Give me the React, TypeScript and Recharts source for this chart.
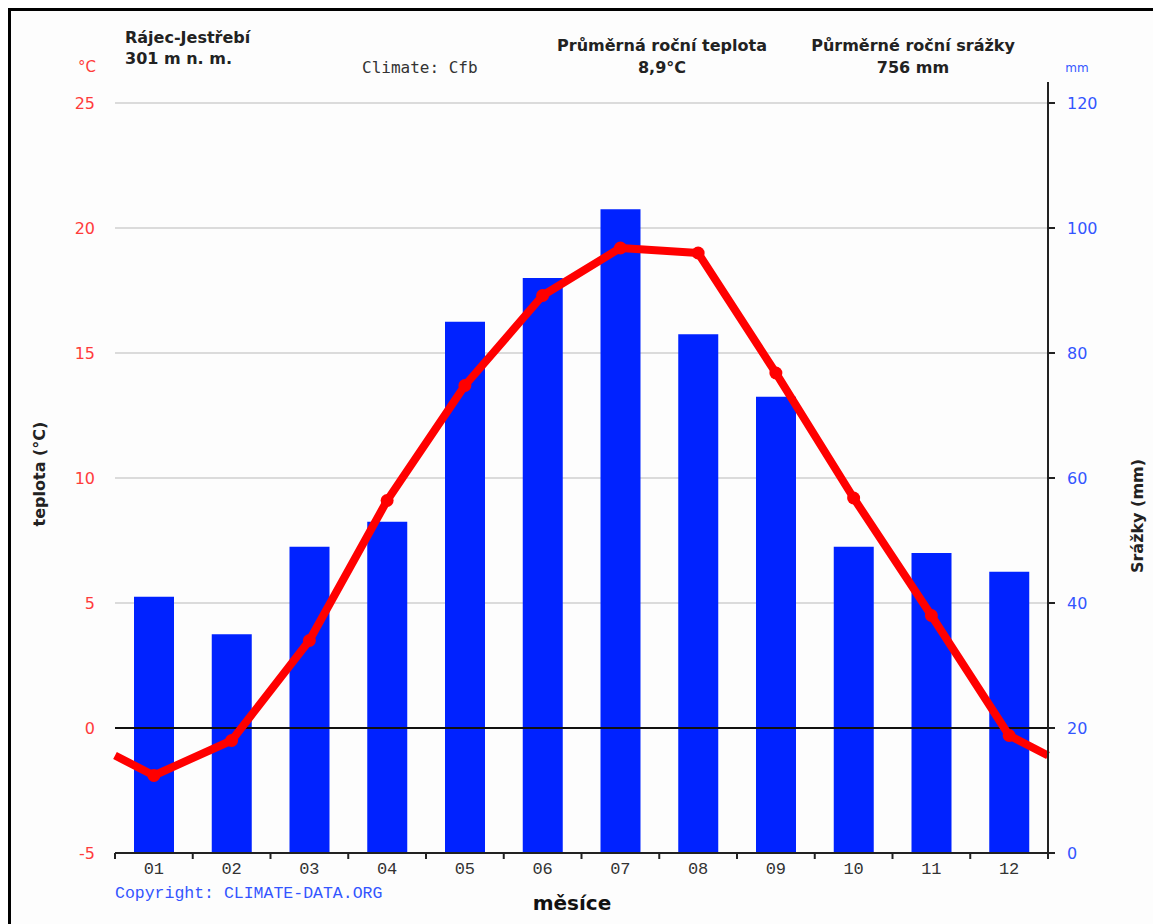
import { ComposedChart, Bar, Line, XAxis, YAxis, CartesianGrid, ReferenceLine } from 'recharts'

const MONTHS = ['01', '02', '03', '04', '05', '06', '07', '08', '09', '10', '11', '12']
const TEMP = [-1.9, -0.5, 3.5, 9.1, 13.7, 17.3, 19.2, 19.0, 14.2, 9.2, 4.5, -0.3]
const PRECIP = [41, 35, 49, 53, 85, 92, 103, 83, 73, 49, 48, 45]
// the temperature line runs out to both plot edges (Dec -> Jan wrap)
const TEMP_EDGE_LEFT = -1.1
const TEMP_EDGE_RIGHT = -1.1
const TEMP_TICKS = [-5, 0, 5, 10, 15, 20, 25]
const PRECIP_TICKS = [0, 20, 40, 60, 80, 100, 120]
const MONTH_TICKS = MONTHS.map((_, i) => i + 1)
const BOUNDARY_TICKS = [0.5, ...MONTHS.map((_, i) => i + 1.5)]

const barData = MONTHS.map((label, i) => ({ m: i + 1, label, precip: PRECIP[i] }))
const lineData = [
  { m: 0.5, temp: TEMP_EDGE_LEFT },
  ...MONTHS.map((_, i) => ({ m: i + 1, temp: TEMP[i] })),
  { m: 12.5, temp: TEMP_EDGE_RIGHT },
]

const SANS = '"DejaVu Sans", Verdana, sans-serif'
const MONO = '"Liberation Mono", monospace'
const SANS_MONO = '"DejaVu Sans Mono", monospace'
const OFF = 11 // page offset of the frame's inner box

function MonthTick({ x, y, payload }: any) {
  return (
    <text x={x} y={y + 20} textAnchor="middle" fill="#333" fontSize={17} fontFamily={MONO}>
      {MONTHS[payload.value - 1]}
    </text>
  )
}

function NoLabel() {
  return <g />
}

function TempDot(props: any) {
  const { cx, cy, payload, index } = props
  if (!Number.isInteger(payload.m)) return <g key={index} />
  return <circle key={index} cx={cx} cy={cy} r={6.5} fill="#ff0000" />
}

function Txt({ x, y, children, anchor = 'middle', rotate = 0, style = {} }: any) {
  const tx = anchor === 'start' ? '0' : '-50%'
  return (
    <div
      style={{
        position: 'absolute',
        left: x - OFF,
        top: y - OFF,
        transform: `translate(${tx}, -50%) rotate(${rotate}deg)`,
        whiteSpace: 'nowrap',
        lineHeight: 1,
        ...style,
      }}
    >
      {children}
    </div>
  )
}

const bold = { fontFamily: SANS, fontWeight: 700, fontSize: 16, color: '#222' }

export default function App() {
  return (
    <>
      <style>{'html,body{margin:0;padding:0;overflow:hidden;background:#fff}'}</style>
      <div
        style={{
          position: 'absolute',
          left: 8,
          top: 8,
          width: 1142,
          height: 913,
          borderTop: '3px solid #000',
          borderLeft: '3px solid #000',
          background: '#fdfdfd',
          overflow: 'hidden',
        }}
      >
        <ComposedChart
          width={1142}
          height={913}
          data={barData}
          margin={{ top: 92, right: 45, bottom: 30, left: 44 }}
        >
          <CartesianGrid xAxisId="m" yAxisId="t" vertical={false} stroke="#cfcfcf" strokeWidth={1.5} />
          <XAxis
            xAxisId="edges"
            dataKey="m"
            type="number"
            domain={[0.5, 12.5]}
            ticks={BOUNDARY_TICKS}
            interval={0}
            tick={<NoLabel />}
            tickLine={{ stroke: '#222', strokeWidth: 2 }}
            tickSize={6}
            axisLine={{ stroke: '#222', strokeWidth: 2 }}
            height={1}
          />
          <XAxis
            xAxisId="m"
            dataKey="m"
            type="number"
            domain={[0.5, 12.5]}
            ticks={MONTH_TICKS}
            interval={0}
            tick={<MonthTick />}
            tickLine={false}
            tickSize={0}
            tickMargin={0}
            axisLine={false}
            height={40}
          />
          <YAxis
            yAxisId="t"
            orientation="left"
            domain={[-5, 25]}
            ticks={TEMP_TICKS}
            interval={0}
            axisLine={false}
            tickLine={false}
            tickSize={0}
            tickMargin={20}
            width={60}
            tick={{ fill: '#ff3b3b', fontSize: 16, fontFamily: SANS }}
          />
          <YAxis
            yAxisId="p"
            orientation="right"
            domain={[0, 120]}
            ticks={PRECIP_TICKS}
            interval={0}
            axisLine={{ stroke: '#222', strokeWidth: 2 }}
            tickLine={{ stroke: '#222', strokeWidth: 2 }}
            tickSize={7}
            tickMargin={12}
            width={60}
            tick={{ fill: '#3355ff', fontSize: 16, fontFamily: SANS }}
          />
          <Bar xAxisId="m" yAxisId="p" dataKey="precip" fill="#0022ff" barSize={40} isAnimationActive={false} />
          <ReferenceLine xAxisId="m" yAxisId="t" y={0} stroke="#111" strokeWidth={2} />
          <Line
            xAxisId="edges"
            yAxisId="t"
            data={lineData}
            dataKey="temp"
            type="linear"
            stroke="#ff0000"
            strokeWidth={8}
            strokeLinejoin="round"
            dot={TempDot}
            activeDot={false}
            isAnimationActive={false}
          />
        </ComposedChart>

        {/* right axis runs a little above the top tick */}
        <div style={{ position: 'absolute', left: 1047 - OFF, top: 82 - OFF, width: 2, height: 21, background: '#222' }} />

        <Txt x={125} y={38} anchor="start" style={bold}>Rájec-Jestřebí</Txt>
        <Txt x={125} y={59} anchor="start" style={bold}>301 m n. m.</Txt>
        <Txt x={362} y={68} anchor="start" style={{ fontFamily: SANS_MONO, fontSize: 16, color: '#333' }}>
          Climate: Cfb
        </Txt>
        <Txt x={662} y={46} style={bold}>Průměrná roční teplota</Txt>
        <Txt x={662} y={68} style={bold}>8,9°C</Txt>
        <Txt x={913} y={46} style={bold}>Půrměrné roční srážky</Txt>
        <Txt x={913} y={68} style={bold}>756 mm</Txt>
        <Txt x={87} y={67} style={{ fontFamily: SANS, fontSize: 15, color: '#ff3b3b' }}>°C</Txt>
        <Txt x={1077} y={68} style={{ fontFamily: SANS, fontSize: 12, color: '#3355ff' }}>mm</Txt>
        <Txt x={40} y={474} rotate={-90} style={bold}>teplota (°C)</Txt>
        <Txt x={1138} y={516} rotate={-90} style={bold}>Srážky (mm)</Txt>
        <Txt x={115} y={894} anchor="start" style={{ fontFamily: MONO, fontSize: 16.5, color: '#3355ff' }}>
          Copyright: CLIMATE-DATA.ORG
        </Txt>
        <Txt x={572} y={903} style={{ ...bold, fontSize: 20, color: '#111' }}>měsíce</Txt>
      </div>
    </>
  )
}
